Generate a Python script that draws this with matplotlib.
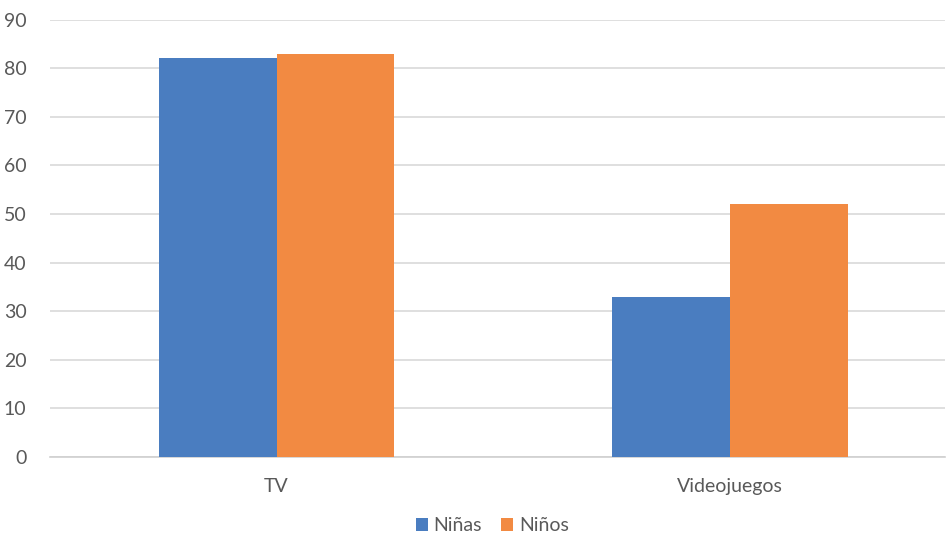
import matplotlib.pyplot as plt
import numpy as np

# Datos
categorias = ['TV', 'Videojuegos']
ninas = [82, 33]
ninos = [83, 52]

plt.rcParams['font.family'] = ['Lato', 'DejaVu Sans']

fig = plt.figure(figsize=(9.47, 5.36), dpi=100)
ax = fig.add_axes([0.0528, 0.1474, 0.9452, 0.8162])

x = np.arange(len(categorias))
ancho = 0.26
ax.bar(x - ancho / 2, ninas, ancho, color='#4A7DC0', label='Niñas', zorder=3)
ax.bar(x + ancho / 2, ninos, ancho, color='#F28A42', label='Niños', zorder=3)

ax.set_ylim(0, 90)
ax.set_xlim(-0.5, 1.475)
ax.set_yticks(range(0, 91, 10))
ax.set_xticks(x)
ax.set_xticklabels(categorias)
ax.grid(axis='y', color='#D9D9D9', linewidth=1.2, zorder=0)

for lado in ['top', 'right', 'left']:
    ax.spines[lado].set_visible(False)
ax.spines['bottom'].set_color('#D0D0D0')
ax.spines['bottom'].set_linewidth(1.2)
ax.tick_params(axis='both', length=0, labelsize=14, labelcolor='#595959')
ax.tick_params(axis='y', pad=17)
ax.tick_params(axis='x', pad=15)

fig.legend(loc='lower center', bbox_to_anchor=(0.52, -0.022), ncol=2, frameon=False,
           fontsize=14, labelcolor='#595959', handlelength=0.6, handleheight=0.6,
           handletextpad=0.3, columnspacing=1.0, borderpad=0.2)

fig.savefig('out.png', dpi=100)
